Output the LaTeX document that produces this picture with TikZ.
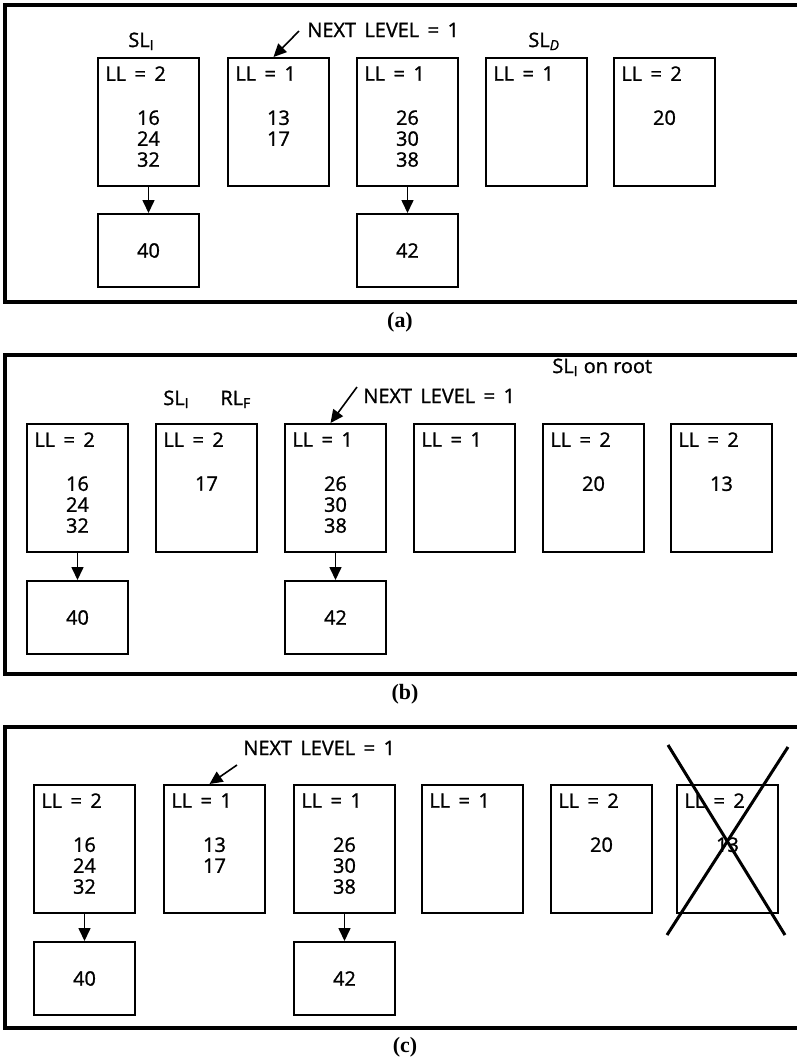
\documentclass[tikz,border=0pt]{standalone}
\usepackage{fontspec}
\setmainfont{Open Sans}[FakeBold=1.2]
\newfontfamily\didafont{Liberation Serif}
\usetikzlibrary{arrows.meta}

\begin{document}
\begin{tikzpicture}[x=0.5bp, y=-0.5bp,
        every node/.style={font=\fontsize{10}{10.5}\selectfont},
        cornice/.style={line width=1.8bp},
        pagina/.style={draw, line width=1bp, minimum width=50.5bp, minimum height=64bp, inner sep=0, anchor=north west},
        foglia/.style={draw, line width=1bp, minimum width=50.5bp, minimum height=36.5bp, inner sep=0, anchor=north west},
        ll/.style={anchor=north west, inner sep=0, xshift=4bp, yshift=-4.5bp},
        num/.style={anchor=north, align=center, inner sep=0, yshift=-26.5bp},
        freccia/.style={-{Triangle[length=6.5bp,width=6bp]}, line width=0.8bp},
        etichetta/.style={anchor=base west, inner sep=0},
        didascalia/.style={font=\didafont\fontsize{11}{11}\selectfont\bfseries}]
        \useasboundingbox (0,0) rectangle (797,1061);

        % Pannello (a)
        \draw[cornice] (797,5) -- (5,5) -- (5,302) -- (797,302);
        \node[pagina] (a1) at (97,57) {};
        \node[pagina] (a2) at (227,57) {};
        \node[pagina] (a3) at (356,57) {};
        \node[pagina] (a4) at (485,57) {};
        \node[pagina] (a5) at (613,57) {};
        \node[ll] (a1l) at (a1.north west) {LL \,=\, 2};
        \node[ll] (a2l) at (a2.north west) {LL \,=\, 1};
        \node[ll] (a3l) at (a3.north west) {LL \,=\, 1};
        \node[ll] (a4l) at (a4.north west) {LL \,=\, 1};
        \node[ll] (a5l) at (a5.north west) {LL \,=\, 2};
        \node[num] (a1n) at (a1.north) {16\\24\\32};
        \node[num] (a2n) at (a2.north) {13\\17};
        \node[num] (a3n) at (a3.north) {26\\30\\38};
        \node[num] (a5n) at (a5.north) {20};
        \node[foglia] (a6) at (97,213) {40};
        \node[foglia] (a7) at (356,213) {42};
        \draw[freccia] (a1.south) -- (a6.north);
        \draw[freccia] (a3.south) -- (a7.north);
        \node[etichetta] (asli) at (128,47) {SL\textsubscript{I}};
        \node[etichetta] (asld) at (528,47) {SL\textsubscript{\itshape D}};
        \node[etichetta] (anl) at (307,37) {NEXT\, LEVEL \,=\, 1};
        \draw[freccia] ([xshift=-4bp,yshift=3bp]anl.base west) -- ([xshift=-2.5bp]a2.north);
        \node[didascalia] (acap) at (400,322) {(a)};

        % Pannello (b)
        \draw[cornice] (797,355) -- (5,355) -- (5,674) -- (797,674);
        \node[pagina] (b1) at (26,423) {};
        \node[pagina] (b2) at (155,423) {};
        \node[pagina] (b3) at (284,423) {};
        \node[pagina] (b4) at (413,423) {};
        \node[pagina] (b5) at (542,423) {};
        \node[pagina] (b6) at (670,423) {};
        \node[ll] (b1l) at (b1.north west) {LL \,=\, 2};
        \node[ll] (b2l) at (b2.north west) {LL \,=\, 2};
        \node[ll] (b3l) at (b3.north west) {LL \,=\, 1};
        \node[ll] (b4l) at (b4.north west) {LL \,=\, 1};
        \node[ll] (b5l) at (b5.north west) {LL \,=\, 2};
        \node[ll] (b6l) at (b6.north west) {LL \,=\, 2};
        \node[num] (b1n) at (b1.north) {16\\24\\32};
        \node[num] (b2n) at (b2.north) {17};
        \node[num] (b3n) at (b3.north) {26\\30\\38};
        \node[num] (b5n) at (b5.north) {20};
        \node[num] (b6n) at (b6.north) {13};
        \node[foglia] (b7) at (26,580) {40};
        \node[foglia] (b8) at (284,580) {42};
        \draw[freccia] (b1.south) -- (b7.north);
        \draw[freccia] (b3.south) -- (b8.north);
        \node[etichetta] (bsli) at (163,405) {SL\textsubscript{I}};
        \node[etichetta] (brlf) at (220,405) {RL\textsubscript{F}};
        \node[etichetta] (broot) at (552,373) {SL\textsubscript{I} on root};
        \node[etichetta] (bnl) at (363,403) {NEXT\, LEVEL \,=\, 1};
        \draw[freccia] ([xshift=-3bp,yshift=8bp]bnl.base west) -- ([xshift=-2.5bp]b3.north);
        \node[didascalia] (bcap) at (405,694) {(b)};

        % Pannello (c)
        \draw[cornice] (797,727) -- (5,727) -- (5,1028) -- (797,1028);
        \node[pagina] (c1) at (33,784) {};
        \node[pagina] (c2) at (163,784) {};
        \node[pagina] (c3) at (293,784) {};
        \node[pagina] (c4) at (421,784) {};
        \node[pagina] (c5) at (550,784) {};
        \node[pagina] (c6) at (676,784) {};
        \node[ll] (c1l) at (c1.north west) {LL \,=\, 2};
        \node[ll] (c2l) at (c2.north west) {LL \,=\, 1};
        \node[ll] (c3l) at (c3.north west) {LL \,=\, 1};
        \node[ll] (c4l) at (c4.north west) {LL \,=\, 1};
        \node[ll] (c5l) at (c5.north west) {LL \,=\, 2};
        \node[ll] (c6l) at (c6.north west) {LL \,=\, 2};
        \node[num] (c1n) at (c1.north) {16\\24\\32};
        \node[num] (c2n) at (c2.north) {13\\17};
        \node[num] (c3n) at (c3.north) {26\\30\\38};
        \node[num] (c5n) at (c5.north) {20};
        \node[num] (c6n) at (c6.north) {13};
        \node[foglia] (c7) at (33,941) {40};
        \node[foglia] (c8) at (293,941) {42};
        \draw[freccia] (c1.south) -- (c7.north);
        \draw[freccia] (c3.south) -- (c8.north);
        \node[etichetta] (cnl) at (243,755) {NEXT\, LEVEL \,=\, 1};
        \draw[freccia] ([xshift=-3bp,yshift=-5bp]cnl.base west) -- ([xshift=-2.5bp]c2.north);
        % Pagina cancellata
        \draw[line width=1.5bp] ([shift={(-8,-39)}]c6.north west) -- ([shift={(6,21)}]c6.south east);
        \draw[line width=1.5bp] ([shift={(9,-37)}]c6.north east) -- ([shift={(-9,21)}]c6.south west);
        \node[didascalia] (ccap) at (405,1047) {(c)};
\end{tikzpicture}
\end{document}
